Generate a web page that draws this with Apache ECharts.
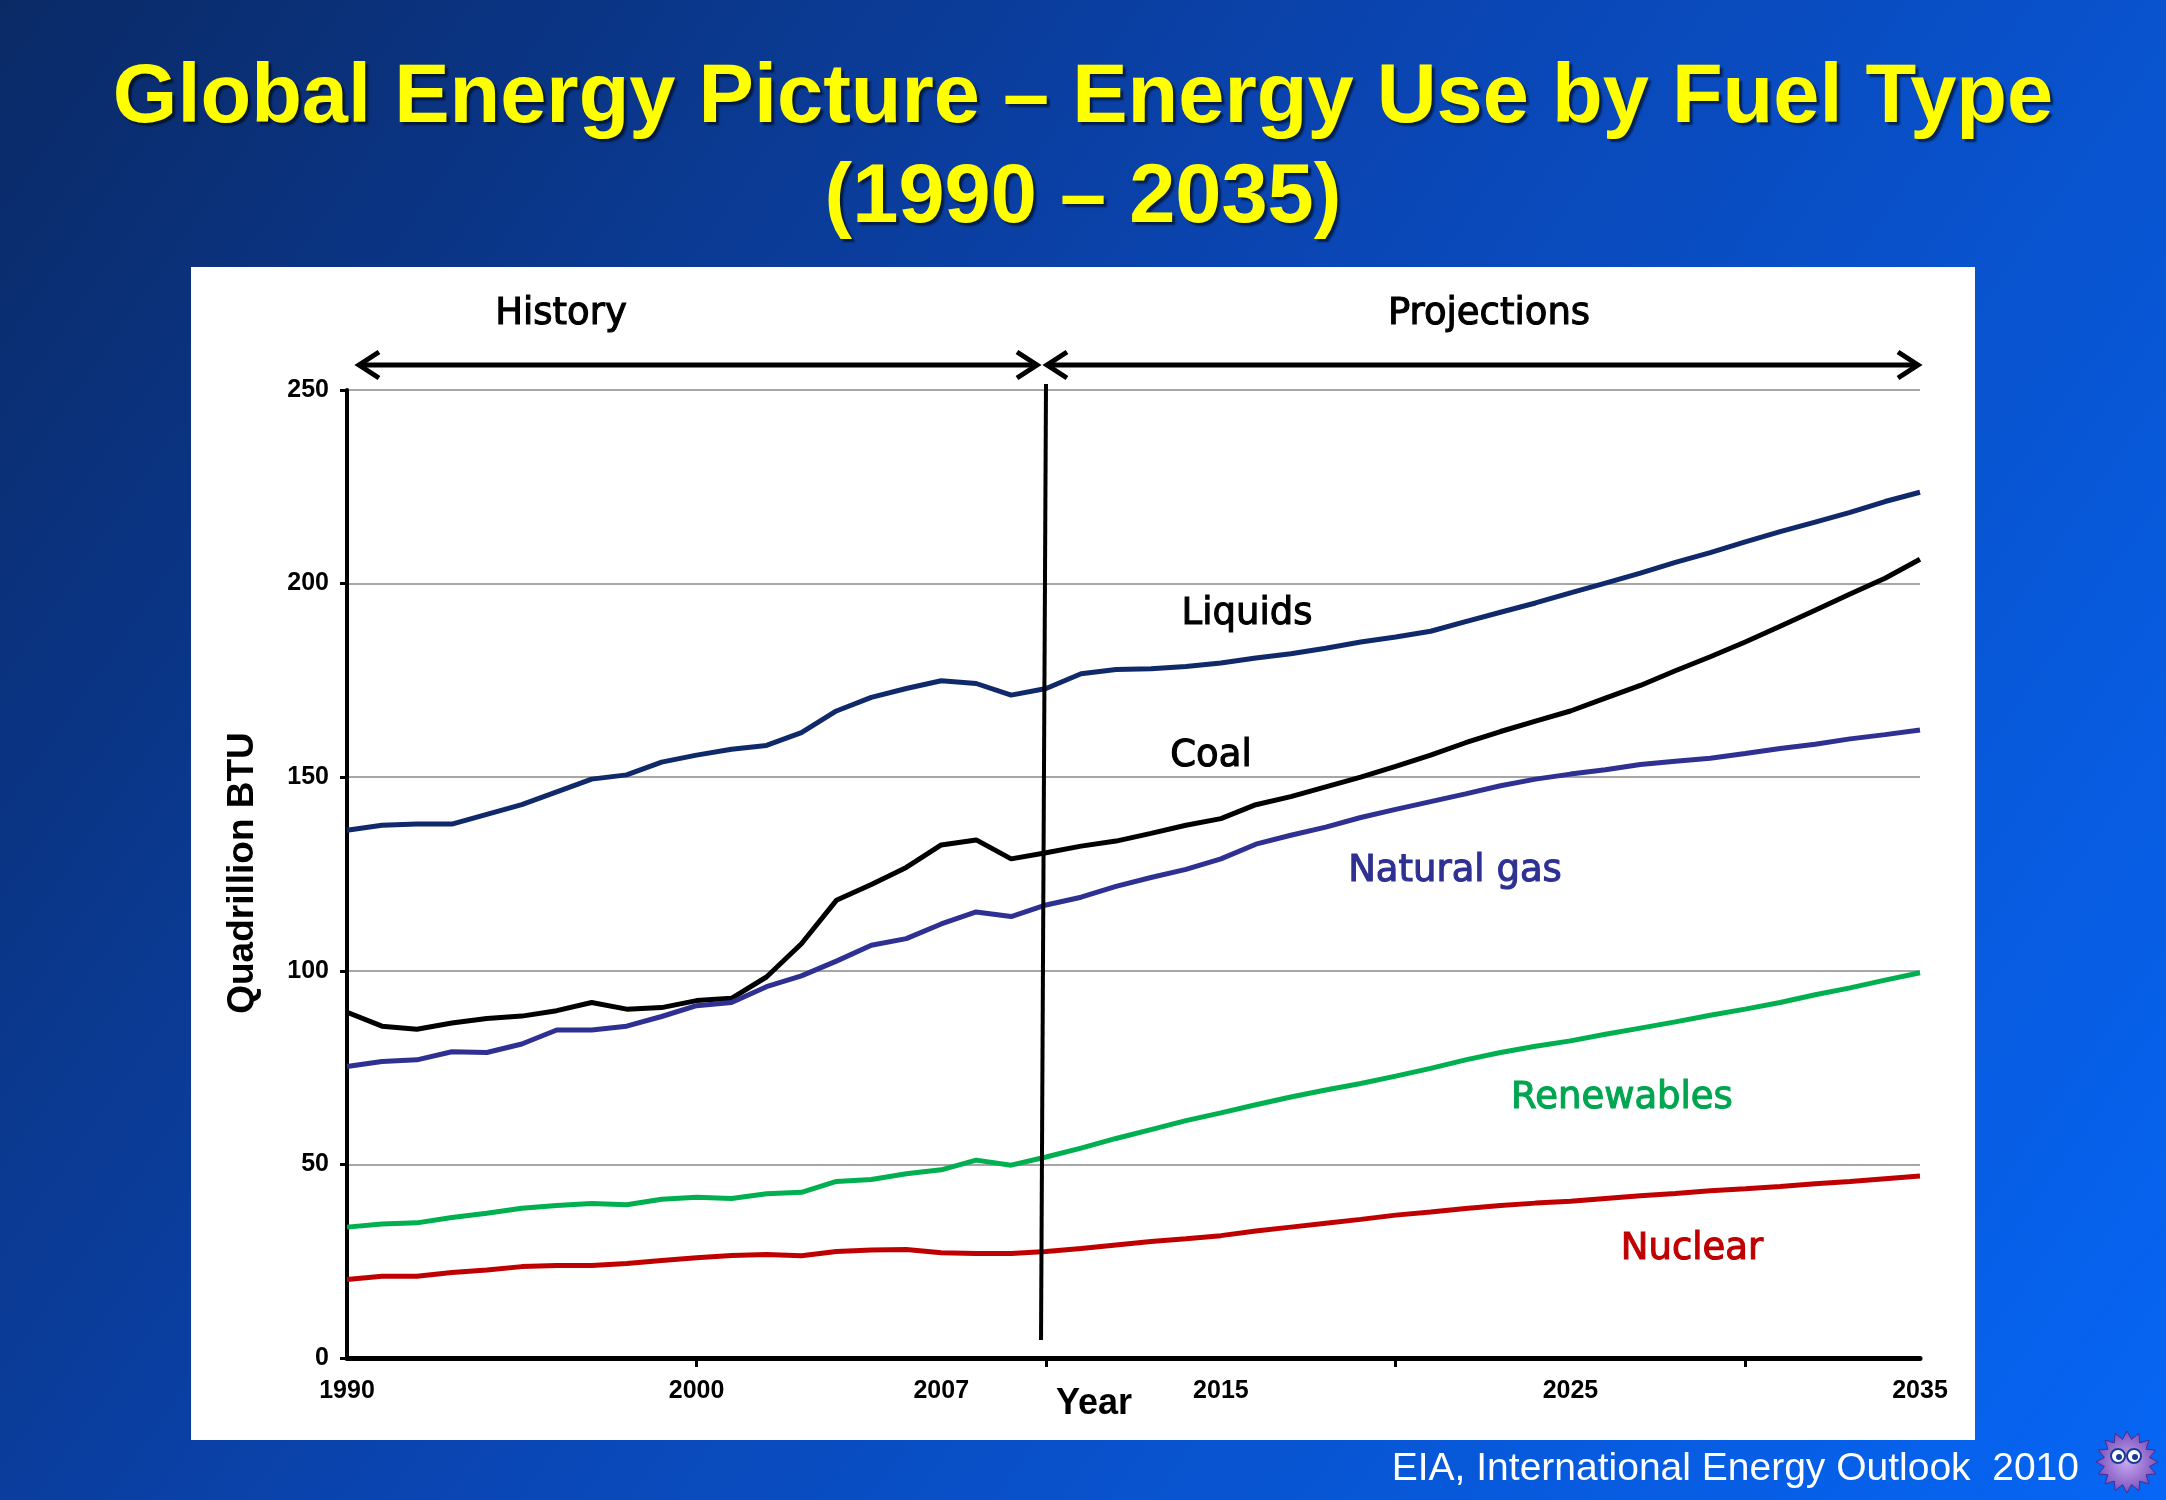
<!DOCTYPE html>
<html>
<head>
<meta charset="utf-8">
<script src="https://cdn.jsdelivr.net/npm/echarts@6/dist/echarts.min.js"></script>
<style>
html,body{margin:0;padding:0;width:2166px;height:1500px;overflow:hidden;}
#chart{width:2166px;height:1500px;}
</style>
</head>
<body>
<div id="chart"></div>
<script>
// ---- data (Quadrillion BTU) ----
const years = [1990,1991,1992,1993,1994,1995,1996,1997,1998,1999,2000,2001,2002,2003,2004,2005,2006,2007,2008,2009,2010,2011,2012,2013,2014,2015,2016,2017,2018,2019,2020,2021,2022,2023,2024,2025,2026,2027,2028,2029,2030,2031,2032,2033,2034,2035];
const liquids = [136.3,137.6,137.9,137.9,140.4,142.9,146.2,149.5,150.6,153.9,155.7,157.2,158.2,161.5,167.1,170.6,172.9,174.9,174.2,171.2,172.9,176.7,177.8,178.0,178.6,179.5,180.8,181.9,183.3,184.9,186.2,187.7,190.2,192.6,195.0,197.6,200.1,202.7,205.5,208.0,210.8,213.4,215.9,218.4,221.2,223.6];
const coal = [89.3,85.7,84.9,86.5,87.7,88.3,89.7,91.8,90.1,90.5,92.3,92.9,98.4,107.0,118.2,122.3,126.7,132.5,133.8,128.9,130.5,132.2,133.5,135.5,137.6,139.3,142.9,145.0,147.5,150.0,152.8,155.7,158.9,161.8,164.5,167.1,170.4,173.7,177.5,181.1,184.9,189.0,193.1,197.3,201.4,206.3];
const naturalGas = [75.3,76.6,77.0,79.1,78.9,81.1,84.7,84.7,85.7,88.2,91.0,91.8,95.9,98.7,102.5,106.6,108.3,112.1,115.2,114.0,117.0,119.0,121.8,124.1,126.2,128.9,132.7,135.0,137.1,139.6,141.7,143.7,145.7,147.8,149.5,150.8,151.9,153.3,154.1,154.9,156.1,157.4,158.5,159.9,161.0,162.2];
const renewables = [33.8,34.6,34.9,36.3,37.4,38.7,39.4,39.9,39.6,41.0,41.5,41.2,42.4,42.8,45.6,46.1,47.6,48.6,51.1,49.8,51.9,54.2,56.7,59.0,61.3,63.3,65.4,67.4,69.2,70.9,72.8,74.8,77.0,78.9,80.5,81.9,83.6,85.2,86.8,88.5,90.1,91.8,93.8,95.6,97.6,99.5];
const nuclear = [20.3,21.1,21.1,22.1,22.7,23.6,23.9,23.9,24.4,25.2,25.9,26.5,26.7,26.4,27.5,27.9,28.0,27.2,27.0,27.0,27.5,28.3,29.2,30.1,30.8,31.6,32.8,33.8,34.8,35.8,36.9,37.7,38.6,39.4,40.0,40.5,41.2,41.9,42.5,43.2,43.7,44.3,45.0,45.6,46.3,47.0];
const xTickValues = [2000,2010,2020,2030];
const xLabelValues = [1990,2000,2007,2015,2025,2035];
const seriesNames = ['Liquids','Coal','Natural gas','Renewables','Nuclear'];
const seriesColors = ['#10296b','#000000','#2e3192','#00b050','#c00000'];
const seriesValues = [liquids, coal, naturalGas, renewables, nuclear];

const chart = echarts.init(document.getElementById('chart'), null, {renderer:'canvas'});

const ARIAL = '"Liberation Sans", Arial, sans-serif';
const DEJAVU = '"DejaVu Sans", Verdana, sans-serif';

function starPoints(cx, cy, ro, ri, n){
  const pts=[];
  for(let i=0;i<n*2;i++){
    const r = i%2===0 ? ro : ri;
    const a = Math.PI*i/n;
    pts.push([cx+r*Math.cos(a), cy+r*Math.sin(a)]);
  }
  return pts;
}

function note(x, y, text, color){
  return {type:'text', z:100, style:{x:x, y:y, text:text, align:'center', verticalAlign:'middle', fill:color, stroke:color, lineWidth:1.1, font:'37px '+DEJAVU}};
}

const option = {
  animation:false,
  backgroundColor: new echarts.graphic.LinearGradient(0,0,1,1,[
    {offset:0, color:'#0a2a66'},
    {offset:0.45, color:'#0a45b2'},
    {offset:1, color:'#0666f5'}
  ]),
  grid:{left:347, right:246, top:390, bottom:142},
  xAxis:{
    type:'value', min:1990, max:2035,
    axisLine:{show:true, onZero:false, lineStyle:{color:'#000', width:5}},
    axisTick:{show:true, customValues:xTickValues, length:9, lineStyle:{color:'#000', width:3}},
    axisLabel:{customValues:xLabelValues, formatter:function(v){return String(v);}, color:'#000', fontWeight:'bold', fontSize:25, fontFamily:ARIAL, margin:21},
    splitLine:{show:false}
  },
  yAxis:{
    type:'value', min:0, max:250, interval:50,
    axisLine:{show:true, lineStyle:{color:'#000', width:4}},
    axisTick:{show:true, length:7, lineStyle:{color:'#000', width:3}},
    axisLabel:{color:'#000', fontWeight:'bold', fontSize:25, fontFamily:ARIAL, margin:18},
    splitLine:{show:true, lineStyle:{color:'#a6a6a6', width:2}}
  },
  series: seriesNames.map((n,k)=>({
    name:n, type:'line', symbol:'none', smooth:false,
    lineStyle:{color:seriesColors[k], width:5},
    data: years.map((y,i)=>[y, seriesValues[k][i]]),
    z: 3
  })),
  graphic:[
    {type:'rect', z:-100, silent:true, shape:{x:191,y:267,width:1784,height:1173}, style:{fill:'#ffffff'}},
    // titles
    {type:'text', z:100, style:{x:1083, y:99, text:'Global Energy Picture \u2013 Energy Use by Fuel Type', align:'center', verticalAlign:'middle', fill:'#ffff00', font:'bold 83px '+ARIAL, textShadowColor:'rgba(0,0,0,0.55)', textShadowOffsetX:3, textShadowOffsetY:3, textShadowBlur:2}},
    {type:'text', z:100, style:{x:1083, y:199, text:'(1990 \u2013 2035)', align:'center', verticalAlign:'middle', fill:'#ffff00', font:'bold 83px '+ARIAL, textShadowColor:'rgba(0,0,0,0.55)', textShadowOffsetX:3, textShadowOffsetY:3, textShadowBlur:2}},
    // history / projections
    note(561, 314, 'History', '#000'),
    note(1489, 314, 'Projections', '#000'),
    // arrows
    {type:'line', z:50, shape:{x1:360,y1:365,x2:1035,y2:365}, style:{stroke:'#000', lineWidth:5}},
    {type:'polyline', z:50, shape:{points:[[379,352],[359,365],[379,378]]}, style:{stroke:'#000', lineWidth:5, fill:null}},
    {type:'polyline', z:50, shape:{points:[[1017,352],[1037,365],[1017,378]]}, style:{stroke:'#000', lineWidth:5, fill:null}},
    {type:'line', z:50, shape:{x1:1049,y1:365,x2:1916,y2:365}, style:{stroke:'#000', lineWidth:5}},
    {type:'polyline', z:50, shape:{points:[[1067,352],[1047,365],[1067,378]]}, style:{stroke:'#000', lineWidth:5, fill:null}},
    {type:'polyline', z:50, shape:{points:[[1898,352],[1918,365],[1898,378]]}, style:{stroke:'#000', lineWidth:5, fill:null}},
    // divider
    {type:'line', z:50, shape:{x1:1046,y1:384,x2:1041,y2:1340}, style:{stroke:'#000', lineWidth:4}},
    // series labels
    note(1247, 614, 'Liquids', '#000'),
    note(1211, 756, 'Coal', '#000'),
    note(1455, 871, 'Natural gas', '#2e3192'),
    note(1622, 1098, 'Renewables', '#00a550'),
    note(1692, 1249, 'Nuclear', '#c00000'),
    // axis names
    {type:'text', z:100, rotation:Math.PI/2, x:243, y:873, style:{x:0, y:0, text:'Quadrillion BTU', align:'center', verticalAlign:'middle', fill:'#000', font:'bold 37px '+ARIAL}},
    {type:'text', z:100, style:{x:1094, y:1404, text:'Year', align:'center', verticalAlign:'middle', fill:'#000', font:'bold 36px '+ARIAL}},
    // footer
    {type:'text', z:100, style:{x:2079, y:1469, text:'EIA, International Energy Outlook  2010', align:'right', verticalAlign:'middle', fill:'#ffffff', font:'39px '+ARIAL}},
    // small icon
    {type:'polygon', z:100, shape:{points:starPoints(2127,1462,31,23,16)}, style:{fill:new echarts.graphic.RadialGradient(0.5,0.5,0.6,[{offset:0,color:'#c9a8f0'},{offset:1,color:'#6a3fb0'}]), stroke:'#4a2a90', lineWidth:1}},
    {type:'circle', z:101, shape:{cx:2118,cy:1456,r:7}, style:{fill:'#ffffff', stroke:'#1a3a9a', lineWidth:2}},
    {type:'circle', z:101, shape:{cx:2134,cy:1456,r:7}, style:{fill:'#ffffff', stroke:'#1a3a9a', lineWidth:2}},
    {type:'circle', z:102, shape:{cx:2119,cy:1457,r:3}, style:{fill:'#1a3a9a'}},
    {type:'circle', z:102, shape:{cx:2135,cy:1457,r:3}, style:{fill:'#1a3a9a'}}
  ]
};
chart.setOption(option);
</script>
</body>
</html>
